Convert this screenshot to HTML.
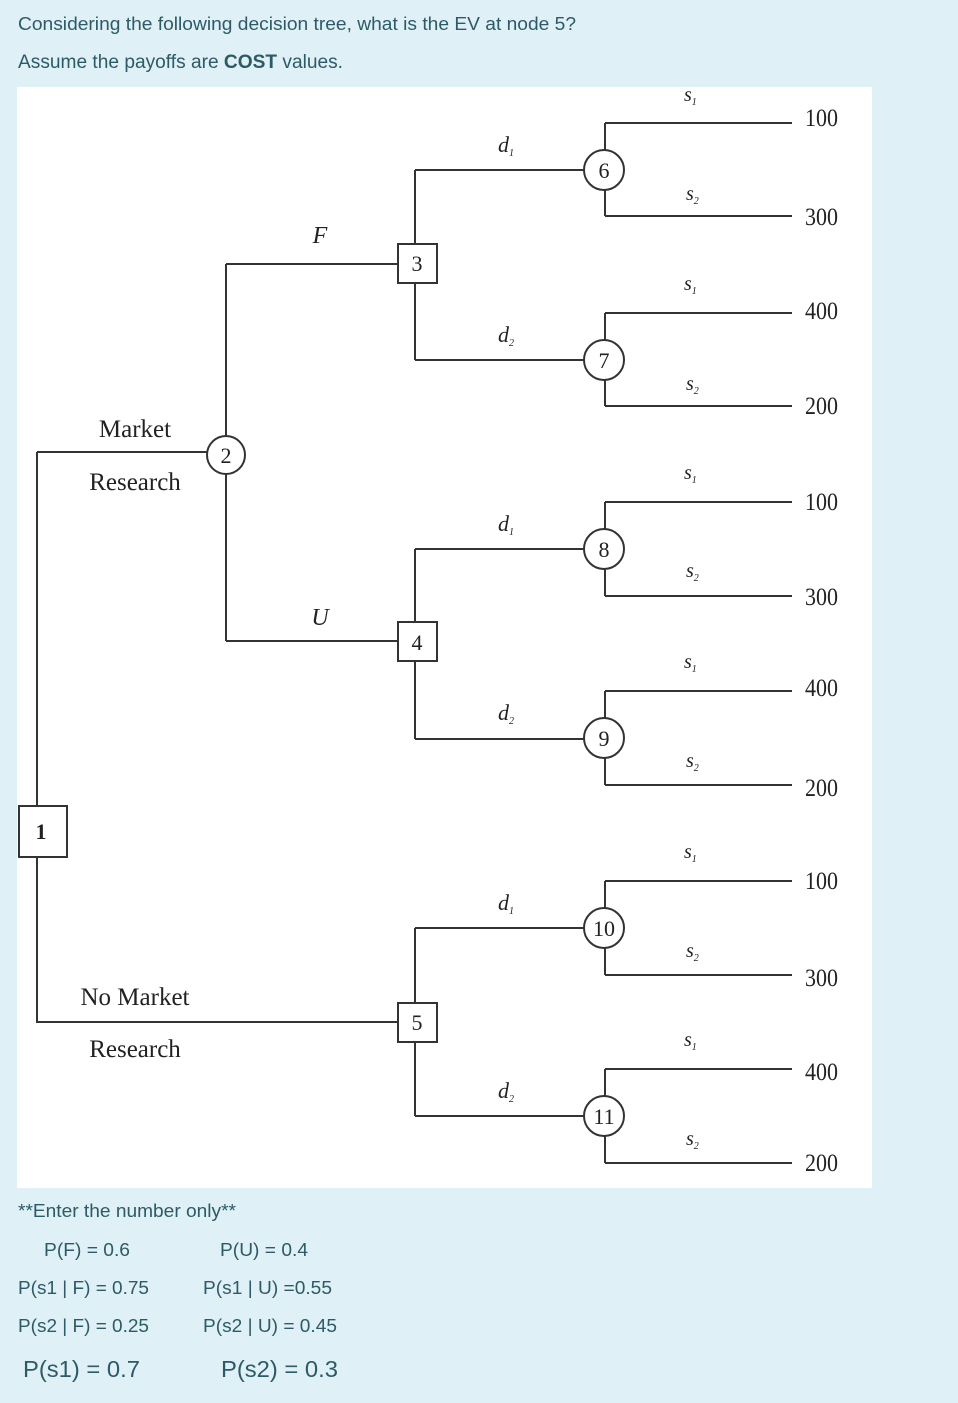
<!DOCTYPE html>
<html><head><meta charset="utf-8"><style>
html,body{margin:0;padding:0;background:#dff0f7;width:958px;height:1403px;overflow:hidden}
svg{display:block}
.t{font-family:"Liberation Sans",sans-serif;fill:#2d5a66}
.s{font-family:"Liberation Serif",serif;fill:#222}
</style></head><body>
<svg width="958" height="1403" viewBox="0 0 958 1403" xmlns="http://www.w3.org/2000/svg">
<rect x="0" y="0" width="958" height="1403" fill="#dff0f7"/>
<text class="t" x="18" y="30" font-size="18" textLength="558" lengthAdjust="spacingAndGlyphs">Considering the following decision tree, what is the EV at node 5?</text>
<text class="t" x="18" y="68" font-size="19" textLength="325" lengthAdjust="spacingAndGlyphs">Assume the payoffs are <tspan font-weight="bold">COST</tspan> values.</text>
<rect x="17" y="87" width="855" height="1101" fill="#fff"/>
<g stroke="#333" stroke-width="2" fill="none">
<path d="M37 452V1022H398M37 452H207"/>
<path d="M226 264V641M226 264H398M226 641H398"/>
<path d="M415 170V360M415 170H584M415 360H584"/>
<path d="M415 549V739M415 549H584M415 739H584"/>
<path d="M415 928V1116M415 928H584M415 1116H584"/>
<path d="M605 123V216M605 123H792M605 216H792"/>
<path d="M605 313V406M605 313H792M605 406H792"/>
<path d="M605 502V596M605 502H792M605 596H792"/>
<path d="M605 691V785M605 691H792M605 785H792"/>
<path d="M605 881V975M605 881H792M605 975H792"/>
<path d="M605 1069V1163M605 1069H792M605 1163H792"/>
</g>
<g stroke="#333" stroke-width="2" fill="#fff">
<rect x="19" y="806" width="48" height="51"/>
<rect x="398" y="244" width="39" height="39"/>
<rect x="398" y="622" width="39" height="39"/>
<rect x="398" y="1003" width="39" height="39"/>
<circle cx="226" cy="455" r="19"/>
<circle cx="604" cy="170" r="20"/>
<circle cx="604" cy="360" r="20"/>
<circle cx="604" cy="549" r="20"/>
<circle cx="604" cy="738" r="20"/>
<circle cx="604" cy="928" r="20"/>
<circle cx="604" cy="1116" r="20"/>
</g>
<g class="s" font-size="22" text-anchor="middle">
<text x="41" y="839" font-weight="bold">1</text>
<text x="226" y="463">2</text>
<text x="417" y="271">3</text>
<text x="417" y="650">4</text>
<text x="417" y="1030">5</text>
<text x="604" y="178">6</text>
<text x="604" y="368">7</text>
<text x="604" y="557">8</text>
<text x="604" y="746">9</text>
<text x="604" y="936">10</text>
<text x="604" y="1124">11</text>
</g>
<g class="s" font-size="25" text-anchor="middle">
<text x="135" y="437">Market</text>
<text x="135" y="490">Research</text>
<text x="135" y="1005">No Market</text>
<text x="135" y="1057">Research</text>
</g>
<g class="s" font-size="24" font-style="italic" text-anchor="middle">
<text x="320" y="243">F</text>
<text x="320" y="625">U</text>
</g>
<g class="s" font-size="22" font-style="italic">
<text x="498" y="152">d<tspan font-size="10" dy="4">1</tspan></text>
<text x="498" y="342">d<tspan font-size="10" dy="4">2</tspan></text>
<text x="498" y="531">d<tspan font-size="10" dy="4">1</tspan></text>
<text x="498" y="720">d<tspan font-size="10" dy="4">2</tspan></text>
<text x="498" y="910">d<tspan font-size="10" dy="4">1</tspan></text>
<text x="498" y="1098">d<tspan font-size="10" dy="4">2</tspan></text>
</g>
<g class="s" font-size="20" font-style="italic">
<text x="684" y="101">s<tspan font-size="10" dy="4">1</tspan></text>
<text x="686" y="200">s<tspan font-size="10" dy="4">2</tspan></text>
<text x="684" y="290">s<tspan font-size="10" dy="4">1</tspan></text>
<text x="686" y="390">s<tspan font-size="10" dy="4">2</tspan></text>
<text x="684" y="479">s<tspan font-size="10" dy="4">1</tspan></text>
<text x="686" y="577">s<tspan font-size="10" dy="4">2</tspan></text>
<text x="684" y="668">s<tspan font-size="10" dy="4">1</tspan></text>
<text x="686" y="767">s<tspan font-size="10" dy="4">2</tspan></text>
<text x="684" y="858">s<tspan font-size="10" dy="4">1</tspan></text>
<text x="686" y="957">s<tspan font-size="10" dy="4">2</tspan></text>
<text x="684" y="1046">s<tspan font-size="10" dy="4">1</tspan></text>
<text x="686" y="1145">s<tspan font-size="10" dy="4">2</tspan></text>
</g>
<g class="s" font-size="25" transform="translate(805 0) scale(0.88 1) translate(-805 0)">
<text x="805" y="126">100</text>
<text x="805" y="225">300</text>
<text x="805" y="319">400</text>
<text x="805" y="414">200</text>
<text x="805" y="510">100</text>
<text x="805" y="605">300</text>
<text x="805" y="696">400</text>
<text x="805" y="796">200</text>
<text x="805" y="889">100</text>
<text x="805" y="986">300</text>
<text x="805" y="1080">400</text>
<text x="805" y="1171">200</text>
</g>
<g class="t" font-size="18.5">
<text x="18" y="1217" textLength="218" lengthAdjust="spacingAndGlyphs">**Enter the number only**</text>
<text x="44" y="1256" textLength="86" lengthAdjust="spacingAndGlyphs">P(F) = 0.6</text>
<text x="220" y="1256" textLength="88" lengthAdjust="spacingAndGlyphs">P(U) = 0.4</text>
<text x="18" y="1294" textLength="131" lengthAdjust="spacingAndGlyphs">P(s1 | F) = 0.75</text>
<text x="203" y="1294" textLength="129" lengthAdjust="spacingAndGlyphs">P(s1 | U) =0.55</text>
<text x="18" y="1332" textLength="131" lengthAdjust="spacingAndGlyphs">P(s2 | F) = 0.25</text>
<text x="203" y="1332" textLength="134" lengthAdjust="spacingAndGlyphs">P(s2 | U) = 0.45</text>
</g>
<g class="t" font-size="23">
<text x="23" y="1377" textLength="117" lengthAdjust="spacingAndGlyphs">P(s1) = 0.7</text>
<text x="221" y="1377" textLength="117" lengthAdjust="spacingAndGlyphs">P(s2) = 0.3</text>
</g>
</svg>
</body></html>
